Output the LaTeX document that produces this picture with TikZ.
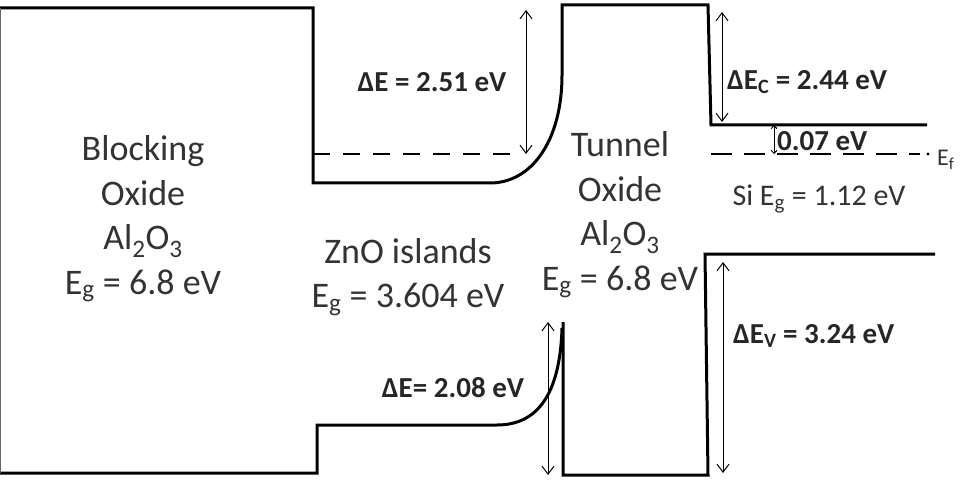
\documentclass[tikz,border=0pt]{standalone}
\usepackage{fontspec}
\setmainfont{Carlito}
\usetikzlibrary{arrows.meta}
\begin{document}
\begin{tikzpicture}[x=1pt,y=-1pt,
  band/.style={line width=3pt,line join=miter},
  fermi/.style={line width=2.8pt,dash pattern=on 17pt off 13pt},
  dim/.style={line width=1pt,{Straight Barb[length=8pt,width=12pt]}-{Straight Barb[length=8pt,width=12pt]}},
  big/.style={font=\fontsize{36}{44.5}\selectfont,align=center,text=black!80},
  lab/.style={font=\fontsize{29}{32}\selectfont\bfseries,text=black!85},
  sil/.style={font=\fontsize{30}{32}\selectfont,text=black!80}]
\useasboundingbox (0,0) rectangle (969,481);
% coordinates
\coordinate (a1) at (0,8);
\coordinate (a2) at (313,8);
\coordinate (a3) at (313,183);
\coordinate (a4) at (490,183);
\coordinate (a5) at (562,75);
\coordinate (a6) at (562,5);
\coordinate (a7) at (708,5);
\coordinate (a8) at (711,125);
\coordinate (a9) at (927,125);
\coordinate (b1) at (0,473);
\coordinate (b2) at (317,473);
\coordinate (b3) at (317,425);
\coordinate (b4) at (497,425);
\coordinate (b5) at (562,328);
\coordinate (c1) at (563,322);
\coordinate (c2) at (563,475);
\coordinate (c3) at (708,475);
\coordinate (c4) at (705,254);
\coordinate (c5) at (935,254);
% bands
\draw[band] (a1) -- (a2) -- (a3) -- (a4) .. controls (532,183) and (562,140) .. (a5) -- (a6) -- (a7) -- (a8) -- (a9);
\draw[band] (b1) -- (b2) -- (b3) -- (b4) .. controls (537,425) and (560,395) .. (b5);
\draw[band] (c1) -- (c2) -- (c3) -- (c4) -- (c5);
\draw[line width=1pt,black!60] (0.5,8) -- (0.5,473);
% Fermi levels
\coordinate (f1) at (313,154);
\coordinate (f2) at (520,154);
\coordinate (f3) at (711,154);
\coordinate (f4) at (920,154);
\draw[fermi] (f1) -- (f2);
\draw[line width=2.8pt,dash pattern=on 21pt off 12pt] (f3) -- (f4);
\fill (928,154) circle (1.6pt);
\node[font=\fontsize{24}{26}\selectfont,anchor=west,text=black!80,inner sep=1pt] (ef) at (936,160) {E\textsubscript{f}};
% dimension arrows
\coordinate (d1a) at (526,10);  \coordinate (d1b) at (526,154);
\coordinate (d2a) at (722,12);  \coordinate (d2b) at (722,122);
\coordinate (d3a) at (774,125); \coordinate (d3b) at (774,154);
\coordinate (d4a) at (548,322); \coordinate (d4b) at (548,475);
\coordinate (d5a) at (723,262); \coordinate (d5b) at (723,473);
\draw[dim] (d1a) -- (d1b);
\draw[dim] (d2a) -- (d2b);
\draw[line width=1pt,{Straight Barb[length=3pt,width=6pt]}-{Straight Barb[length=3pt,width=6pt]}] (d3a) -- (d3b);
\draw[dim] (d4a) -- (d4b);
\draw[dim] (d5a) -- (d5b);
% labels
\node[lab] (l1) at (432,82) {ΔE = 2.51 eV};
\node[lab,anchor=west,inner sep=1pt] (l2) at (726,82) {ΔE\textsubscript{C} = 2.44 eV};
\node[lab,anchor=west,inner sep=1pt] (l3) at (776,141) {0.07 eV};
\node[lab] (l4) at (453,388) {ΔE= 2.08 eV};
\node[lab,anchor=west,inner sep=1pt] (l5) at (732,336) {ΔE\textsubscript{V} = 3.24 eV};
\node[sil] (si) at (819,199) {Si E\textsubscript{g} = 1.12 eV};
% big texts
\node[big] (bo) at (143,219) {Blocking\\Oxide\\Al\textsubscript{2}O\textsubscript{3}\\E\textsubscript{g} = 6.8 eV};
\node[big] (zn) at (408,277) {ZnO islands\\E\textsubscript{g} = 3.604 eV};
\node[big] (to) at (620,215) {Tunnel\\Oxide\\Al\textsubscript{2}O\textsubscript{3}\\E\textsubscript{g} = 6.8 eV};
\end{tikzpicture}
\end{document}
